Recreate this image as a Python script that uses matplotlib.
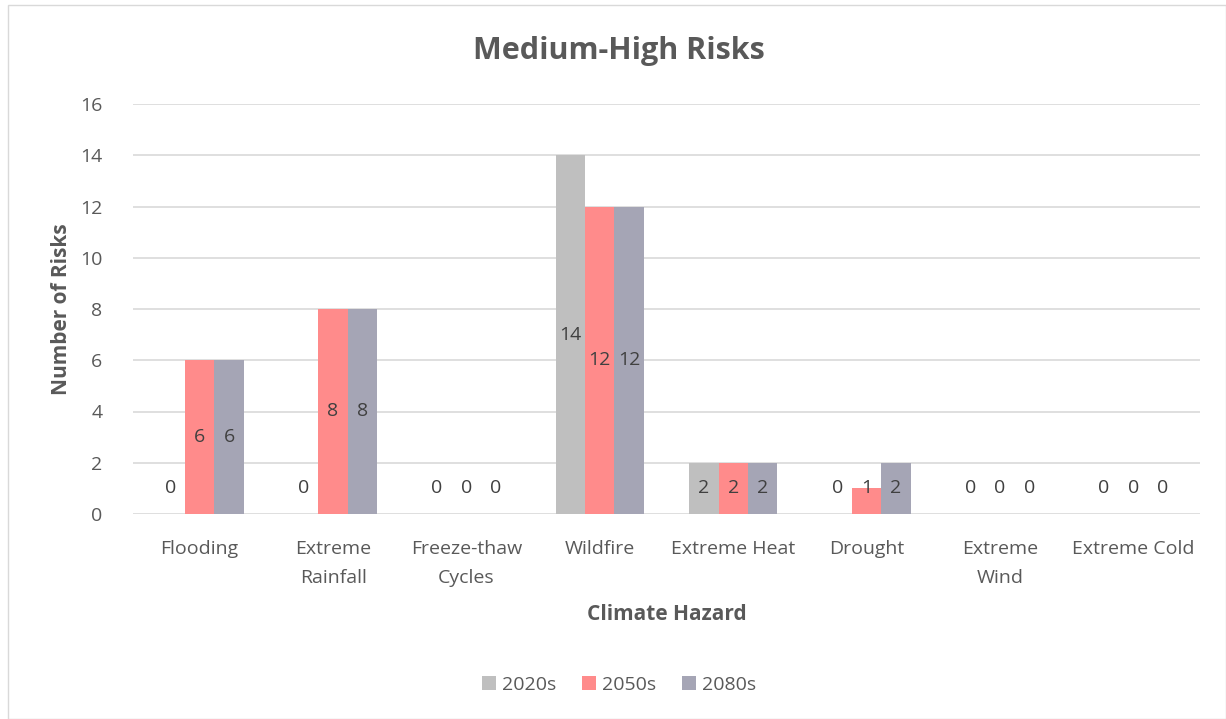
import matplotlib
matplotlib.use("Agg")
import matplotlib.pyplot as plt
import numpy as np
from matplotlib.patches import Rectangle

categories = ["Flooding", "Extreme\nRainfall", "Freeze-thaw\nCycles", "Wildfire",
              "Extreme Heat", "Drought", "Extreme\nWind", "Extreme Cold"]
series_names = ["2020s", "2050s", "2080s"]
v2020 = [0, 0, 0, 14, 2, 0, 0, 0]
v2050 = [6, 8, 0, 12, 2, 1, 0, 0]
v2080 = [6, 8, 0, 12, 2, 2, 0, 0]
colors = ["#BFBFBF", "#FF8B8B", "#A5A5B5"]

plt.rcParams['font.family'] = ['Open Sans', 'DejaVu Sans']
txt = "#595959"
fs = 14

fig = plt.figure(figsize=(12.26, 7.19), dpi=100)
fig.patches.append(Rectangle((8/1226, 0), 1 - 8/1226, 1 - 5/719, transform=fig.transFigure,
                             fill=False, edgecolor="#D9D9D9", lw=1))
ax = fig.add_axes([133/1226, 1 - 514/719, (1200 - 133)/1226, (514 - 104)/719])

x = np.arange(len(categories))
w = 0.22
for i, (vals, c) in enumerate(zip([v2020, v2050, v2080], colors)):
    pos = x + (i - 1) * w
    ax.bar(pos, vals, width=w, color=c, label=series_names[i], zorder=3)
    for p, v in zip(pos, vals):
        yy = v / 2 if v > 1 else 1.0
        ax.text(p, yy, str(v), ha="center", va="center", fontsize=fs, color="#404040", zorder=4)

ax.set_xlim(-0.5, len(categories) - 0.5)
ax.set_ylim(0, 16)
ax.set_yticks(range(0, 17, 2))
ax.grid(axis="y", color="#D9D9D9", lw=1.2, zorder=0)
for s in ax.spines.values():
    s.set_visible(False)
ax.tick_params(axis="both", length=0, colors=txt, labelsize=fs)
ax.tick_params(axis="y", pad=22)
ax.tick_params(axis="x", pad=19)
ax.set_xticks(x)
ax.set_xticklabels(categories, linespacing=1.75)

ax.set_ylabel("Number of Risks", fontsize=15, fontweight="bold", color=txt, labelpad=6)
ax.set_xlabel("Climate Hazard", fontsize=15, fontweight="bold", color=txt, labelpad=12)
fig.text(619/1226, 1 - 51/719, "Medium-High Risks", ha="center", va="center",
         fontsize=22, fontweight="bold", color=txt)

leg = fig.legend(loc="center", bbox_to_anchor=(619/1226, 1 - 685/719), ncol=3, frameon=False,
                 fontsize=fs, handlelength=0.75, handleheight=0.75, handletextpad=0.3,
                 columnspacing=1.3)
for t in leg.get_texts():
    t.set_color(txt)

fig.savefig("out.png", dpi=100)
